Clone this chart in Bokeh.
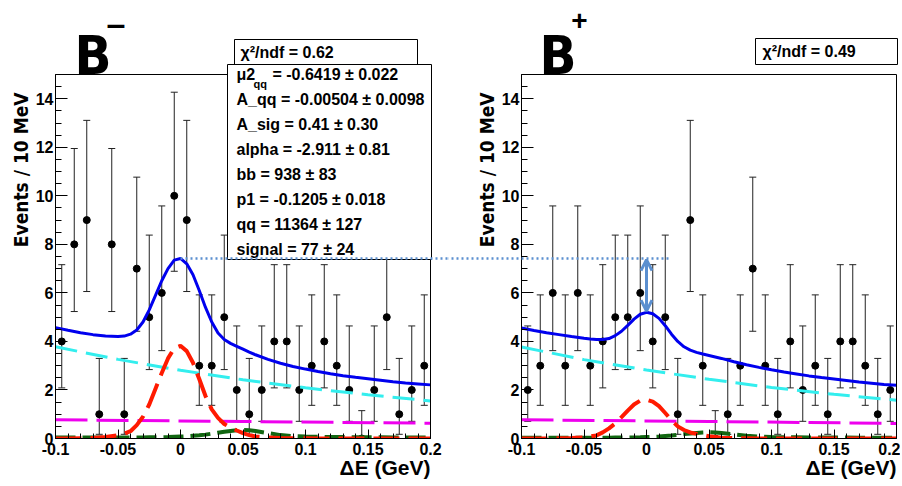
import numpy as np
from bokeh.plotting import figure
from bokeh.models import (Range1d, FixedTicker, ColumnDataSource, Whisker, TeeHead,
                          Label, BoxAnnotation, Arrow, OpenHead, LinearAxis)
from bokeh.layouts import row
from bokeh.embed import file_html
from bokeh.resources import INLINE

# ---------------- data ----------------
BIN_CENTERS = [round(-0.095 + 0.01 * i, 3) for i in range(30)]
COUNTS_BMINUS = [4, 8, 9, 1, 8, 1, 7, 5, 6, 10, 9, 3, 3, 5, 2, 1, 2, 4, 4, 2,
                 3, 4, 3, 2, 0, 2, 5, 1, 2, 3]
COUNTS_BPLUS = [2, 3, 6, 3, 6, 3, 4, 5, 5, 6, 4, 5, 1, 9, 3, 0, 1, 3, 7, 3,
                1, 4, 2, 3, 1, 4, 4, 3, 1, 2]
# 68% Poisson interval ends, indexed by count
POISSON_LO = [0.0, 0.173, 0.708, 1.367, 2.086, 2.840, 3.620, 4.419, 5.232, 6.057, 6.891]
POISSON_HI = [1.148, 3.300, 4.638, 5.918, 7.163, 8.382, 9.584, 10.77, 11.95, 13.11, 14.27]

CURVE_X = [-0.1, -0.09, -0.08, -0.07, -0.06, -0.05, -0.045, -0.04, -0.035, -0.03,
           -0.025, -0.02, -0.015, -0.01, -0.005, 0.0, 0.005, 0.01, 0.015, 0.02,
           0.025, 0.03, 0.035, 0.04, 0.045, 0.05, 0.055, 0.06, 0.07, 0.08,
           0.09, 0.1, 0.11, 0.12, 0.13, 0.14, 0.15, 0.16, 0.17, 0.18, 0.19, 0.2]
TOTAL_BMINUS = [4.57, 4.46, 4.36, 4.28, 4.22, 4.2, 4.22, 4.3, 4.47, 4.8,
                5.3, 5.9, 6.5, 7.0, 7.35, 7.42, 7.2, 6.75, 6.1, 5.4,
                4.8, 4.35, 4.08, 3.92, 3.8, 3.68, 3.56, 3.45, 3.26, 3.1,
                2.97, 2.86, 2.76, 2.67, 2.59, 2.52, 2.46, 2.4, 2.34, 2.29, 2.25, 2.21]
SIGNAL_BMINUS = [0, 0, 0.01, 0.02, 0.06, 0.13, 0.2, 0.3, 0.55, 0.9,
                 1.4, 2.05, 2.7, 3.3, 3.72, 3.82, 3.6, 3.12, 2.45, 1.75,
                 1.2, 0.85, 0.6, 0.45, 0.33, 0.22, 0.14, 0.08, 0.04, 0.02,
                 0.01, 0.01, 0, 0, 0, 0, 0, 0, 0, 0, 0, 0]
BB_BMINUS = [0.04, 0.04, 0.04, 0.04, 0.04, 0.04, 0.04, 0.04, 0.04, 0.045,
             0.05, 0.05, 0.055, 0.06, 0.07, 0.08, 0.09, 0.11, 0.13, 0.16,
             0.2, 0.24, 0.28, 0.31, 0.34, 0.35, 0.34, 0.31, 0.22, 0.14,
             0.1, 0.08, 0.07, 0.06, 0.06, 0.05, 0.05, 0.05, 0.04, 0.04, 0.04, 0.04]
TOTAL_BPLUS = [4.55, 4.45, 4.36, 4.28, 4.2, 4.13, 4.1, 4.08, 4.08, 4.12,
               4.24, 4.42, 4.66, 4.92, 5.12, 5.2, 5.14, 4.95, 4.65, 4.3,
               4.0, 3.78, 3.64, 3.55, 3.48, 3.42, 3.36, 3.3, 3.16, 3.04,
               2.93, 2.83, 2.74, 2.66, 2.58, 2.51, 2.45, 2.39, 2.33, 2.28, 2.23, 2.19]
SIGNAL_BPLUS = [0, 0, 0, 0.01, 0.02, 0.05, 0.08, 0.13, 0.25, 0.42,
                0.62, 0.88, 1.15, 1.4, 1.56, 1.6, 1.52, 1.33, 1.05, 0.75,
                0.5, 0.35, 0.25, 0.19, 0.14, 0.09, 0.06, 0.03, 0.02, 0.01,
                0, 0, 0, 0, 0, 0, 0, 0, 0, 0, 0, 0]
BB_BPLUS = [0.03, 0.03, 0.03, 0.03, 0.03, 0.03, 0.03, 0.03, 0.03, 0.035,
            0.04, 0.04, 0.04, 0.045, 0.05, 0.06, 0.07, 0.08, 0.1, 0.12,
            0.15, 0.18, 0.21, 0.23, 0.25, 0.26, 0.25, 0.23, 0.17, 0.11,
            0.08, 0.06, 0.05, 0.05, 0.04, 0.04, 0.04, 0.04, 0.03, 0.03, 0.03, 0.03]
CONT_X = [-0.1, -0.05, 0.0, 0.05, 0.1, 0.15, 0.2]
CONT_BMINUS = [3.78, 3.26, 2.81, 2.42, 2.09, 1.80, 1.55]
CONT_BPLUS = [3.77, 3.25, 2.82, 2.44, 2.10, 1.82, 1.58]
PEAKING_X = [-0.1, 0.05, 0.2]
PEAKING_BMINUS = [0.77, 0.70, 0.63]
PEAKING_BPLUS = [0.77, 0.70, 0.62]

PEAK_BMINUS = 7.42
PEAK_BPLUS = 5.2

XTICKS = [-0.1, -0.05, 0, 0.05, 0.1, 0.15, 0.2]
XTICK_LABELS = ["-0.1", "-0.05", "0", "0.05", "0.1", "0.15", "0.2"]
YTICKS = [0, 2, 4, 6, 8, 10, 12, 14]

CHI2_BMINUS = "χ²/ndf = 0.62"
CHI2_BPLUS = "χ²/ndf = 0.49"
PARAMS_BMINUS = [("μ2", "qq", "= -0.6419 ± 0.022"),
                 ("A_qq = -0.00504 ± 0.0098", "", ""),
                 ("A_sig =  0.41 ± 0.30", "", ""),
                 ("alpha = -2.911 ± 0.81", "", ""),
                 ("bb =  938 ± 83", "", ""),
                 ("p1 = -0.1205 ± 0.018", "", ""),
                 ("qq =  11364 ± 127", "", ""),
                 ("signal =  77 ± 24", "", "")]

# ---------------- layout (page pixels) ----------------
XMIN, XMAX, YMIN, YMAX = -0.1, 0.2, 0.0, 15.0
H = 484
FRAME_W = 375          # px for 0.3 GeV
FRAME_TOP, FRAME_BOT = 74, 438
SX = (XMAX - XMIN) / FRAME_W
SY = (YMAX - YMIN) / (FRAME_BOT - FRAME_TOP)
FONT = "Liberation Sans"
NARROW = "DejaVu Sans Condensed, Liberation Sans"
DOT_COLOR = "#5b8fcf"


def make_panel(page_left, width, frame_left):
    def px(X, Y):
        return XMIN + (X - frame_left) * SX, (FRAME_BOT - Y) * SY
    x0, y1 = px(page_left, 0)
    x1, y0 = px(page_left + width, H)
    p = figure(width=width, height=H, output_backend="svg", toolbar_location=None,
               x_range=Range1d(x0, x1), y_range=Range1d(y0, y1),
               x_axis_location=None, y_axis_location=None,
               min_border=0, title=None)
    p.grid.visible = False
    p.outline_line_color = None
    p.background_fill_color = "white"
    p.border_fill_color = "white"

    xax = LinearAxis(fixed_location=YMIN, bounds=(XMIN, XMAX))
    xax.ticker = FixedTicker(ticks=XTICKS,
                             minor_ticks=[round(-0.1 + 0.01 * i, 3) for i in range(31)])
    xax.major_label_overrides = dict(zip(XTICKS, XTICK_LABELS))
    yax = LinearAxis(fixed_location=XMIN, bounds=(YMIN, YMAX))
    yax.ticker = FixedTicker(ticks=YTICKS, minor_ticks=[0.5 * i for i in range(31)])
    for ax in (xax, yax):
        ax.axis_line_color = "black"
        ax.major_tick_line_color = "black"
        ax.minor_tick_line_color = "black"
        ax.major_tick_out = 0
        ax.minor_tick_out = 0
        ax.major_label_text_font = FONT
        ax.major_label_text_font_style = "bold"
        ax.major_label_text_font_size = "16px"
        ax.major_label_text_color = "black"
    xax.major_tick_in = 9
    xax.minor_tick_in = 5
    xax.major_label_standoff = 4
    yax.major_tick_in = 12
    yax.minor_tick_in = 6
    yax.major_label_standoff = 2
    p.add_layout(xax, "below")
    p.add_layout(yax, "left")
    return p, px


def draw_data(p, counts):
    lo = [POISSON_LO[c] for c in counts]
    hi = [POISSON_HI[c] for c in counts]
    src = ColumnDataSource(dict(x=BIN_CENTERS, y=counts, lo=lo, hi=hi))
    w = Whisker(source=src, base="x", lower="lo", upper="hi", line_color="#222222",
                line_width=1, level="underlay",
                upper_head=TeeHead(size=7, line_color="#222222", line_width=1),
                lower_head=TeeHead(size=7, line_color="#222222", line_width=1))
    p.add_layout(w)
    p.scatter("x", "y", source=src, size=7, color="black")


def draw_fit(p, cont, peaking, bb, signal, total):
    p.line(PEAKING_X, peaking, line_color="#ee00ee", line_width=3, line_dash="32 9")
    p.line(CONT_X, cont, line_color="#33eeee", line_width=3, line_dash="22 9")
    p.line(CURVE_X, bb, line_color="#116611", line_width=4, line_dash="20 7")
    p.line(CURVE_X, signal, line_color="#ff1a00", line_width=4, line_dash="26 9")
    p.line(CURVE_X, total, line_color="#0000ee", line_width=3)
    # mask what lies below the x axis, like the frame clip of the original
    p.add_layout(BoxAnnotation(top=YMIN, fill_color="white", fill_alpha=1.0,
                               line_color=None, level="glyph"))
    # frame
    p.add_layout(BoxAnnotation(left=XMIN, right=XMAX, bottom=YMIN, top=YMAX,
                               fill_color=None, fill_alpha=0.0, line_color="black",
                               line_width=1, line_alpha=1.0))


def text(p, px, X, Y, s, size="16px", align="left", baseline="middle", font=FONT, angle=0.0):
    x, y = px(X, Y)
    p.add_layout(Label(x=x, y=y, text=s, text_font=font, text_font_style="bold",
                       text_font_size=size, text_align=align, text_baseline=baseline,
                       text_color="black", angle=angle))


def box(p, px, X0, Y0, X1, Y1):
    l, t = px(X0, Y0)
    r, b = px(X1, Y1)
    p.add_layout(BoxAnnotation(left=l, right=r, top=t, bottom=b, fill_color="white",
                               fill_alpha=1.0, line_color="black", line_width=1,
                               line_alpha=1.0))


# ---------- left panel: B- ----------
W1 = 448
pl, pxl = make_panel(0, W1, 55)
draw_data(pl, COUNTS_BMINUS)
draw_fit(pl, CONT_BMINUS, PEAKING_BMINUS, BB_BMINUS, SIGNAL_BMINUS, TOTAL_BMINUS)
box(pl, pxl, 234, 39, 417, 64)
text(pl, pxl, 240, 52, CHI2_BMINUS)
box(pl, pxl, 227, 64, 431, 259)
for i, (a, sub, rest) in enumerate(PARAMS_BMINUS):
    Y = 74 + 25 * i
    text(pl, pxl, 236, Y, a)
    if sub:
        text(pl, pxl, 253, Y + 9, sub, size="11px")
        text(pl, pxl, 272, Y, rest)
xe, _ = pxl(W1 + 2, 0)
pl.add_layout(Arrow(end=None, start=None, x_start=0.0, y_start=PEAK_BMINUS,
                    x_end=xe, y_end=PEAK_BMINUS, line_color=DOT_COLOR,
                    line_width=2.5, line_dash="2 3"))
text(pl, pxl, 74, 55, "B", size="54px", baseline="alphabetic", font=NARROW)
text(pl, pxl, 106, 22, "–", size="34px")
text(pl, pxl, 20, 92, "Events / 10 MeV", size="19px", align="right", font=NARROW,
     angle=np.pi / 2)
text(pl, pxl, 430, 467, "ΔE (GeV)", size="21px", align="right")

# ---------- right panel: B+ ----------
W2 = 452
pr, pxr = make_panel(W1, W2, 521)
draw_data(pr, COUNTS_BPLUS)
draw_fit(pr, CONT_BPLUS, PEAKING_BPLUS, BB_BPLUS, SIGNAL_BPLUS, TOTAL_BPLUS)
box(pr, pxr, 755, 38, 897, 64)
text(pr, pxr, 762, 51, CHI2_BPLUS)
xs, _ = pxr(W1 - 2, 0)
xe2, _ = pxr(670, 0)
pr.add_layout(Arrow(end=None, start=None, x_start=xs, y_start=PEAK_BMINUS,
                    x_end=xe2, y_end=PEAK_BMINUS, line_color=DOT_COLOR,
                    line_width=2.5, line_dash="2 3"))
pr.add_layout(Arrow(x_start=0.0, y_start=PEAK_BPLUS + 0.05, x_end=0.0,
                    y_end=PEAK_BMINUS - 0.05, line_color=DOT_COLOR, line_width=3,
                    start=OpenHead(size=11, line_color=DOT_COLOR, line_width=3),
                    end=OpenHead(size=11, line_color=DOT_COLOR, line_width=3)))
text(pr, pxr, 539, 55, "B", size="54px", baseline="alphabetic", font=NARROW)
text(pr, pxr, 579, 20, "+", size="28px", align="center")
text(pr, pxr, 486, 92, "Events / 10 MeV", size="19px", align="right", font=NARROW,
     angle=np.pi / 2)
text(pr, pxr, 896, 467, "ΔE (GeV)", size="21px", align="right")

layout = row(pl, pr)
open("out.html", "w").write(file_html(layout, INLINE))
